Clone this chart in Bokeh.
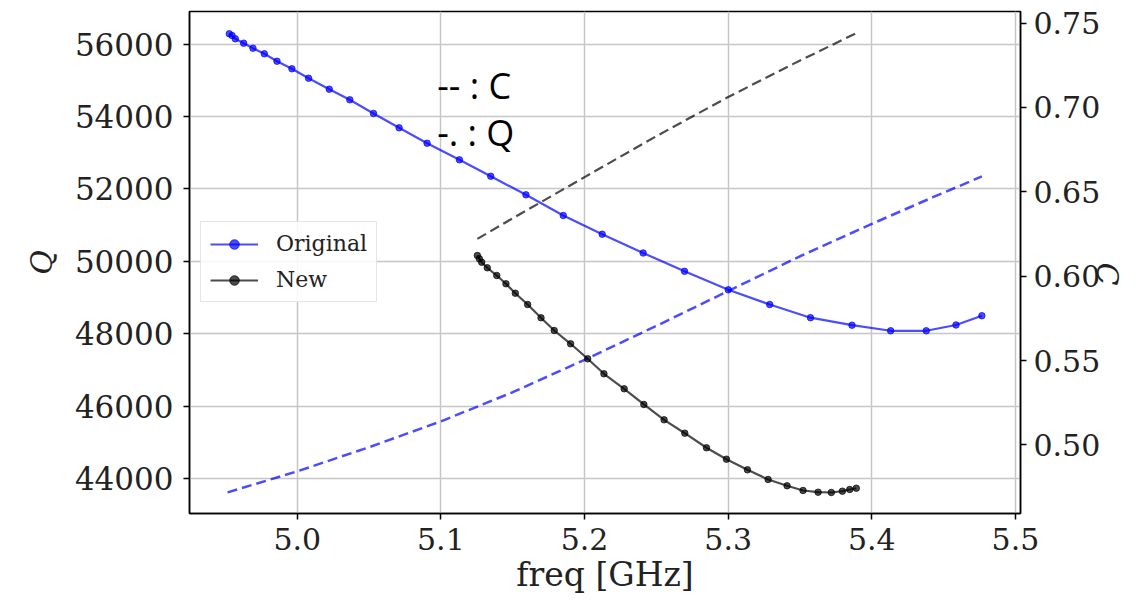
import math
from bokeh.plotting import figure
from bokeh.models import (Range1d, LinearAxis, FixedTicker, Legend, LegendItem,
                          Label, NumeralTickFormatter)
from bokeh.embed import file_html
from bokeh.resources import INLINE

# ---- data ----
orig_freq = [4.9527, 4.9546, 4.9569, 4.9627, 4.9692, 4.9771, 4.9859, 4.9963,
             5.0079, 5.0223, 5.0366, 5.0531, 5.0709, 5.0904, 5.1129, 5.1347,
             5.1592, 5.1852, 5.2123, 5.2408, 5.2696, 5.3001, 5.3289, 5.3573,
             5.3862, 5.4131, 5.4379, 5.4586, 5.4766]
orig_Q = [56282, 56235, 56144, 56022, 55884, 55730, 55525, 55316,
          55056, 54753, 54460, 54082, 53687, 53262, 52804, 52351,
          51838, 51267, 50751, 50232, 49727, 49216, 48810, 48446,
          48239, 48085, 48085, 48245, 48501]

new_freq = [5.1254, 5.1268, 5.1284, 5.1323, 5.1389, 5.1453, 5.1518, 5.1604,
            5.1697, 5.1789, 5.1903, 5.2022, 5.2135, 5.2276, 5.2413, 5.2554,
            5.2698, 5.2849, 5.2988, 5.3134, 5.3278, 5.3410, 5.3521, 5.3626,
            5.3718, 5.3795, 5.3846, 5.3892]
new_Q = [50163, 50072, 49978, 49823, 49611, 49382, 49122, 48810,
         48443, 48093, 47726, 47312, 46898, 46484, 46051, 45628,
         45258, 44856, 44541, 44248, 43981, 43807, 43677, 43630,
         43622, 43658, 43705, 43740]

origC_freq = [4.9515, 5.0, 5.05, 5.1, 5.15, 5.2, 5.25, 5.3, 5.35, 5.4, 5.4425, 5.4766]
orig_C = [0.4718, 0.4843, 0.4986, 0.5139, 0.5312, 0.5504, 0.5705, 0.5912,
          0.6118, 0.6310, 0.6468, 0.6591]

newC_freq = [5.1254, 5.15, 5.2, 5.25, 5.3, 5.345, 5.3892]
new_C = [0.6221, 0.6343, 0.6587, 0.6830, 0.7062, 0.7257, 0.7441]

x_ticks = [5.0, 5.1, 5.2, 5.3, 5.4, 5.5]
q_ticks = [44000, 46000, 48000, 50000, 52000, 54000, 56000]
c_ticks = [0.50, 0.55, 0.60, 0.65, 0.70, 0.75]

SERIF = "DejaVu Serif"
GRID = "#c6c6c6"

p = figure(width=1145, height=606, output_backend="svg", toolbar_location=None,
           x_range=Range1d(4.925, 5.5035), y_range=Range1d(43042, 56897),
           min_border_left=189, min_border_right=124, min_border_top=11,
           min_border_bottom=93)
p.extra_y_ranges = {"C": Range1d(0.4593, 0.7569)}

p.outline_line_color = "black"
p.outline_line_width = 1.5
p.background_fill_color = "white"
p.border_fill_color = "white"

p.xgrid.grid_line_color = GRID
p.ygrid.grid_line_color = GRID
p.xgrid.grid_line_width = 1.5
p.ygrid.grid_line_width = 1.5


def style_axis(ax, size):
    ax.major_label_text_font = SERIF
    ax.major_label_text_font_size = size
    ax.major_label_text_color = "#222222"
    ax.axis_label_text_font = SERIF
    ax.axis_label_text_color = "#222222"
    ax.axis_label_text_font_style = "normal"
    ax.major_tick_out = 6
    ax.major_tick_in = 0
    ax.minor_tick_out = 0
    ax.minor_tick_in = 0
    ax.major_tick_line_width = 1.5
    ax.major_tick_line_color = "black"
    ax.axis_line_color = "black"
    ax.axis_line_width = 1.5


xa = p.xaxis[0]
style_axis(xa, "30px")
xa.ticker = FixedTicker(ticks=x_ticks)
xa.formatter = NumeralTickFormatter(format="0.0")
xa.axis_label = "freq [GHz]"
xa.axis_label_text_font_size = "33px"
xa.major_label_standoff = 8
xa.axis_label_standoff = 2

ya = p.yaxis[0]
style_axis(ya, "31px")
ya.ticker = FixedTicker(ticks=q_ticks)
ya.formatter = NumeralTickFormatter(format="0")
ya.axis_label = "Q"
ya.axis_label_text_font_style = "italic"
ya.axis_label_text_font_size = "30px"
ya.major_label_standoff = 10
ya.axis_label_standoff = 13

ra = LinearAxis(y_range_name="C")
style_axis(ra, "30px")
ra.ticker = FixedTicker(ticks=c_ticks)
ra.formatter = NumeralTickFormatter(format="0.00")
ra.major_label_standoff = 7
ra.axis_label = "C"
ra.axis_label_text_font_style = "italic"
ra.axis_label_text_font_size = "30px"
ra.axis_label_standoff = 4
if "axis_label_orientation" in ra.properties():
    ra.axis_label_orientation = -math.pi / 2
p.add_layout(ra, "right")

# ---- series ----
BLUE = "blue"
BLACK = "black"

# C curves (dashed, right axis)
p.line(origC_freq, orig_C, y_range_name="C", line_color=BLUE, line_alpha=0.7,
       line_width=2.5, line_dash="10 5")
p.line(newC_freq, new_C, y_range_name="C", line_color=BLACK, line_alpha=0.7,
       line_width=2.2, line_dash="10 5")

# Q curves (solid with dots, left axis)
l1 = p.line(orig_freq, orig_Q, line_color=BLUE, line_alpha=0.7, line_width=2.2)
s1 = p.scatter(orig_freq, orig_Q, size=6.5, fill_color=BLUE, line_color=BLUE,
               fill_alpha=0.7, line_alpha=0.7)
l2 = p.line(new_freq, new_Q, line_color=BLACK, line_alpha=0.7, line_width=2.2)
s2 = p.scatter(new_freq, new_Q, size=6.5, fill_color=BLACK, line_color=BLACK,
               fill_alpha=0.7, line_alpha=0.7)

legend = Legend(items=[LegendItem(label="Original", renderers=[l1, s1]),
                       LegendItem(label="New", renderers=[l2, s2])],
                location=(11, 211))
legend.label_text_font = SERIF
legend.label_text_font_size = "22px"
legend.label_text_color = "#222222"
legend.border_line_color = "#cccccc"
legend.border_line_width = 1.5
legend.background_fill_color = "white"
legend.background_fill_alpha = 0.85
legend.padding = 9
legend.spacing = 11
legend.margin = 0
legend.glyph_width = 48
legend.glyph_height = 24
legend.label_height = 24
legend.label_standoff = 18
p.add_layout(legend, "center")

# annotation text (line-style key)
p.add_layout(Label(x=5.0974, y=54855, text="-- : C", text_font="Open Sans",
                   text_font_size="36px", text_color="black",
                   text_baseline="alphabetic"))
p.add_layout(Label(x=5.0974, y=53557, text="-.  : Q", text_font="Open Sans",
                   text_font_size="36px", text_color="black",
                   text_baseline="alphabetic"))

open("out.html", "w").write(file_html(p, INLINE))
